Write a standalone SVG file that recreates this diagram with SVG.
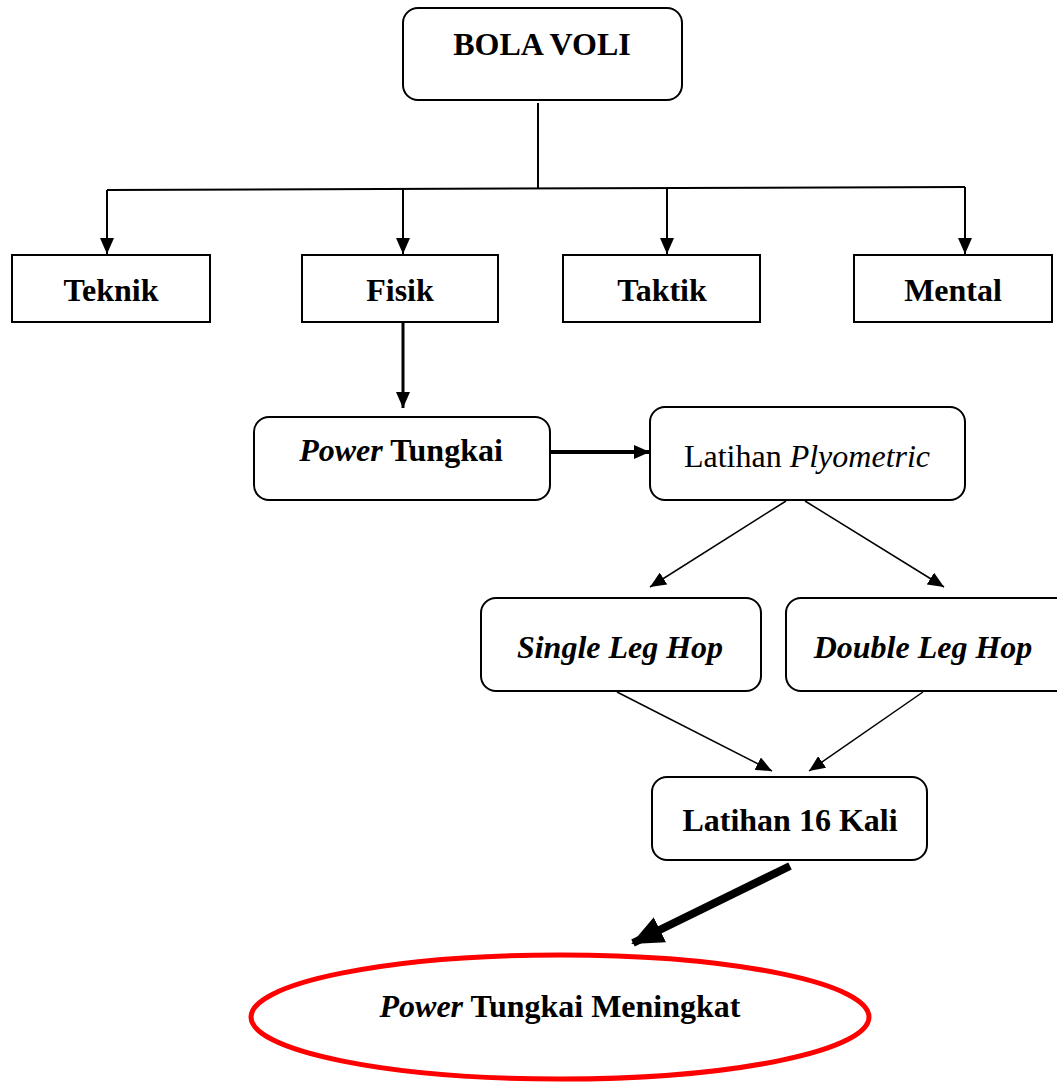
<svg xmlns="http://www.w3.org/2000/svg" width="1057" height="1084" viewBox="0 0 1057 1084">
<style>
.box{fill:#fff;stroke:#000;stroke-width:2}
.t{font-family:"Liberation Serif","Times New Roman",serif;font-size:32px;text-anchor:middle;fill:#000}
.b{font-weight:bold}
.i{font-style:italic}
.c{fill:none;stroke:#000;stroke-width:2}
</style>
<defs>
<marker id="ah2" markerWidth="16" markerHeight="14" refX="16" refY="7" orient="auto" markerUnits="userSpaceOnUse" viewBox="0 0 16 14">
<path d="M0,0 L16,7 L0,14 Z" fill="#000"/>
</marker>
<marker id="ah3" markerWidth="32" markerHeight="28" refX="30" refY="14" orient="auto" markerUnits="userSpaceOnUse" viewBox="0 0 32 28">
<path d="M0,0 L32,14 L0,28 Z" fill="#000"/>
</marker>
</defs>
<g id="connectors">
<line class="c" x1="538" y1="103" x2="538" y2="188"/>
<line class="c" x1="107" y1="190" x2="965" y2="187"/>
<line class="c" x1="107" y1="190" x2="107" y2="254" marker-end="url(#ah2)"/>
<line class="c" x1="403" y1="189" x2="403" y2="254" marker-end="url(#ah2)"/>
<line class="c" x1="667" y1="188" x2="667" y2="254" marker-end="url(#ah2)"/>
<line class="c" x1="965" y1="187" x2="965" y2="254" marker-end="url(#ah2)"/>
<line class="c" style="stroke-width:3" x1="403" y1="322" x2="403" y2="408" marker-end="url(#ah2)"/>
<line class="c" style="stroke-width:4" x1="551" y1="452" x2="650" y2="452" marker-end="url(#ah2)"/>
<line class="c" style="stroke-width:1.5" x1="786" y1="501" x2="650" y2="587" marker-end="url(#ah2)"/>
<line class="c" style="stroke-width:1.5" x1="805" y1="501" x2="944" y2="587" marker-end="url(#ah2)"/>
<line class="c" style="stroke-width:1.5" x1="617" y1="692" x2="772" y2="771" marker-end="url(#ah2)"/>
<line class="c" style="stroke-width:1.5" x1="923" y1="692" x2="809" y2="771" marker-end="url(#ah2)"/>
<line class="c" style="stroke-width:8" x1="790" y1="866" x2="633" y2="943" marker-end="url(#ah3)"/>
</g>
<g id="bola-voli">
<rect class="box" x="403" y="8" width="279" height="92" rx="15"/>
<text class="t b" x="542" y="55">BOLA VOLI</text>
</g>
<g id="teknik">
<rect class="box" x="12" y="255" width="198" height="67"/>
<text class="t b" x="111" y="301">Teknik</text>
</g>
<g id="fisik">
<rect class="box" x="302" y="255" width="196" height="67"/>
<text class="t b" x="400" y="301">Fisik</text>
</g>
<g id="taktik">
<rect class="box" x="563" y="255" width="197" height="67"/>
<text class="t b" x="662" y="301">Taktik</text>
</g>
<g id="mental">
<rect class="box" x="854" y="255" width="198" height="67"/>
<text class="t b" x="953" y="301">Mental</text>
</g>
<g id="power-tungkai">
<rect class="box" x="254" y="417" width="296" height="83" rx="15"/>
<text class="t b" x="401" y="461"><tspan class="i">Power</tspan> Tungkai</text>
</g>
<g id="latihan-plyometric">
<rect class="box" x="650" y="407" width="315" height="93" rx="15"/>
<text class="t" x="807" y="467">Latihan <tspan class="i">Plyometric</tspan></text>
</g>
<g id="single-leg-hop">
<rect class="box" x="481" y="598" width="280" height="93" rx="15"/>
<text class="t b i" x="620" y="658">Single Leg Hop</text>
</g>
<g id="double-leg-hop">
<rect class="box" x="786" y="598" width="285" height="93" rx="15"/>
<text class="t b i" x="923" y="658">Double Leg Hop</text>
</g>
<g id="latihan-16-kali">
<rect class="box" x="652" y="777" width="275" height="83" rx="15"/>
<text class="t b" x="790" y="831">Latihan 16 Kali</text>
</g>
<g id="power-tungkai-meningkat">
<ellipse cx="560" cy="1017" rx="309" ry="62" fill="#fff" stroke="#f00" stroke-width="5"/>
<text class="t b" x="560" y="1017"><tspan class="i">Power</tspan> Tungkai Meningkat</text>
</g>
</svg>
